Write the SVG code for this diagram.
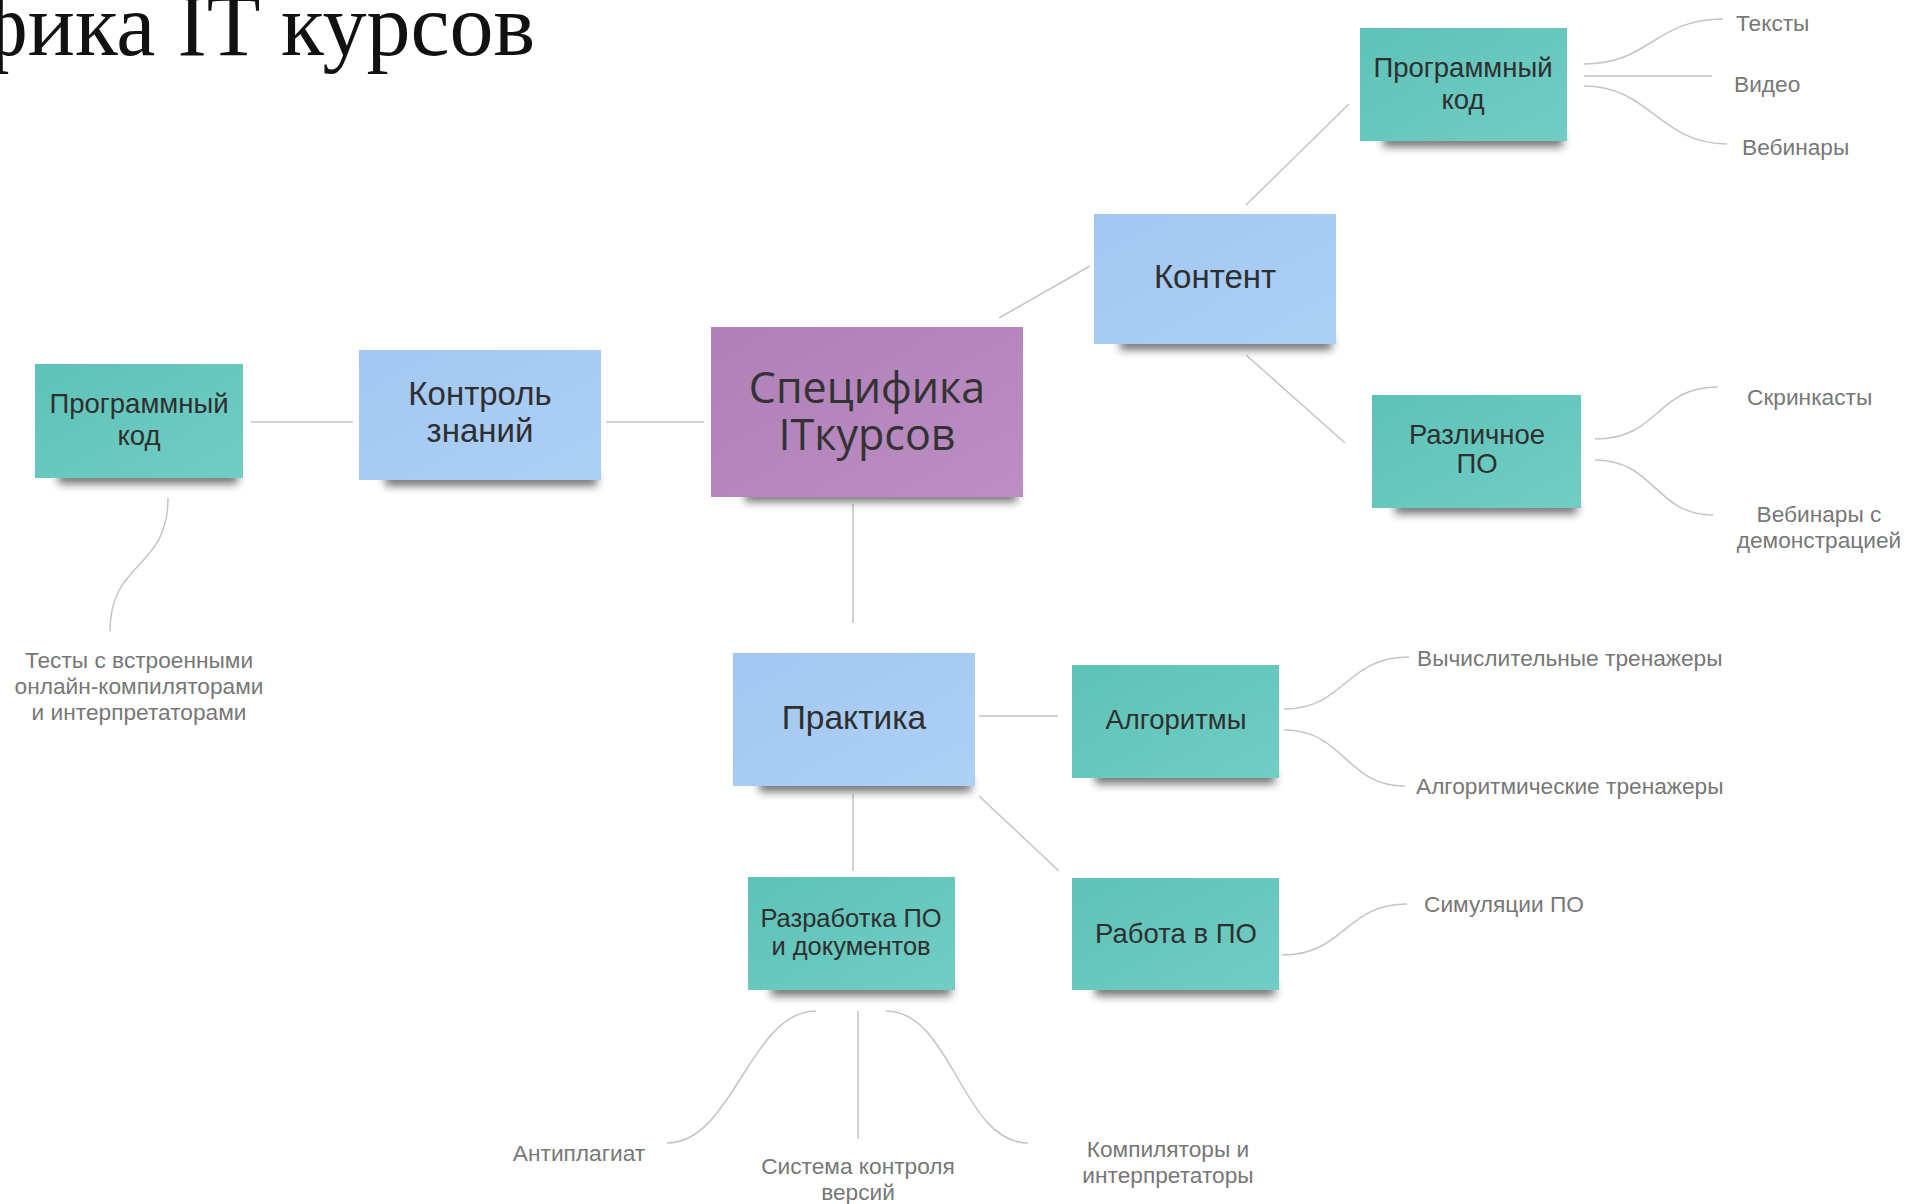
<svg xmlns="http://www.w3.org/2000/svg" width="1905" height="1204" viewBox="0 0 1905 1204">
  <defs>
    <linearGradient id="gTeal" x1="0" y1="0" x2="1" y2="1">
      <stop offset="0" stop-color="#5dc2b8"/>
      <stop offset="1" stop-color="#72cdc4"/>
    </linearGradient>
    <linearGradient id="gBlue" x1="0" y1="0" x2="1" y2="1">
      <stop offset="0" stop-color="#a2c7f1"/>
      <stop offset="1" stop-color="#add0f5"/>
    </linearGradient>
    <linearGradient id="gPurple" x1="0" y1="0" x2="1" y2="1">
      <stop offset="0" stop-color="#af80b8"/>
      <stop offset="1" stop-color="#bc8ec3"/>
    </linearGradient>
    <filter id="blur" x="-20%" y="-150%" width="140%" height="400%">
      <feGaussianBlur stdDeviation="4"/>
    </filter>
  </defs>
  <style>
    .bg { fill: #ffffff; }
    .ln { fill: none; stroke: #c4c4c4; stroke-width: 1.5; }
    .shadow { fill: #1e1e1e; opacity: 0.6; filter: url(#blur); }
    .teal { fill: url(#gTeal); }
    .blue { fill: url(#gBlue); }
    .purple { fill: url(#gPurple); }
    .nt { font-family: "Liberation Sans", Arial, sans-serif; fill: #2f2f2f; text-anchor: middle; }
    .mt { font-family: "Open Sans", "Noto Sans", sans-serif; fill: #333333; text-anchor: middle; font-size: 43px; }
    .lb { font-family: "Liberation Sans", Arial, sans-serif; fill: #777777; font-size: 22.7px; }
    .lc { text-anchor: middle; }
    .title { font-family: "Liberation Serif", "Times New Roman", serif; font-size: 88px; fill: #111111; text-anchor: end; }
  </style>

  <rect class="bg" x="0" y="0" width="1905" height="1204"/>

  <g id="title">
    <text class="title" x="535" y="55">Специфика IT курсов</text>
  </g>

  <g id="connectors">
    <path class="ln" d="M251,422 H353"/>
    <path class="ln" d="M606,422 H704"/>
    <path class="ln" d="M999,318 L1090,266"/>
    <path class="ln" d="M1246,205 L1349,104"/>
    <path class="ln" d="M1246,355 L1345,443"/>
    <path class="ln" d="M853,504 V623"/>
    <path class="ln" d="M853,794 V871"/>
    <path class="ln" d="M979,716 H1058"/>
    <path class="ln" d="M979,796 L1059,871"/>
    <path class="ln" d="M1584,64 C1650,64 1655,19 1723,19"/>
    <path class="ln" d="M1584,76 H1712"/>
    <path class="ln" d="M1584,86 C1650,86 1660,144 1727,144"/>
    <path class="ln" d="M1595,439 C1660,439 1655,387 1718,387"/>
    <path class="ln" d="M1595,460 C1655,460 1655,515 1713,515"/>
    <path class="ln" d="M1284,709 C1345,709 1345,657 1409,657"/>
    <path class="ln" d="M1284,730 C1345,730 1345,786 1405,786"/>
    <path class="ln" d="M1282,955 C1345,955 1345,904 1407,904"/>
    <path class="ln" d="M168,498 C168,570 110,560 110,631"/>
    <path class="ln" d="M816,1011 C750,1011 733,1143 667,1143"/>
    <path class="ln" d="M858,1011 V1139"/>
    <path class="ln" d="M886,1011 C952,1011 962,1143 1028,1143"/>
  </g>

  <g id="node-main">
    <rect class="shadow" x="745" y="488" width="272" height="14"/>
    <rect class="purple" x="711" y="327" width="312" height="170"/>
    <text class="mt" x="867" y="403">Специфика</text>
    <text class="mt" x="867" y="450">ITкурсов</text>
  </g>

  <g id="node-kontrol">
    <rect class="shadow" x="385" y="472" width="212" height="14"/>
    <rect class="blue" x="359" y="350" width="242" height="130"/>
    <text class="nt" x="480" y="405" font-size="33">Контроль</text>
    <text class="nt" x="480" y="442" font-size="33">знаний</text>
  </g>

  <g id="node-prog-left">
    <rect class="shadow" x="58" y="470" width="180" height="14"/>
    <rect class="teal" x="35" y="364" width="208" height="114"/>
    <text class="nt" x="139" y="413" font-size="27.5">Программный</text>
    <text class="nt" x="139" y="445" font-size="27.5">код</text>
  </g>

  <g id="node-kontent">
    <rect class="shadow" x="1120" y="336" width="212" height="14"/>
    <rect class="blue" x="1094" y="214" width="242" height="130"/>
    <text class="nt" x="1215" y="288" font-size="33">Контент</text>
  </g>

  <g id="node-prog-top">
    <rect class="shadow" x="1383" y="133" width="180" height="14"/>
    <rect class="teal" x="1360" y="28" width="207" height="113"/>
    <text class="nt" x="1463" y="77" font-size="27.5">Программный</text>
    <text class="nt" x="1463" y="109" font-size="27.5">код</text>
  </g>

  <g id="node-razlichnoe">
    <rect class="shadow" x="1395" y="500" width="182" height="14"/>
    <rect class="teal" x="1372" y="395" width="209" height="113"/>
    <text class="nt" x="1477" y="444" font-size="27.5">Различное</text>
    <text class="nt" x="1477" y="473" font-size="27.5">ПО</text>
  </g>

  <g id="node-praktika">
    <rect class="shadow" x="759" y="778" width="212" height="14"/>
    <rect class="blue" x="733" y="653" width="242" height="133"/>
    <text class="nt" x="854" y="729" font-size="33.5">Практика</text>
  </g>

  <g id="node-razrabotka">
    <rect class="shadow" x="771" y="982" width="180" height="14"/>
    <rect class="teal" x="748" y="877" width="207" height="113"/>
    <text class="nt" x="851" y="927" font-size="25.5">Разработка ПО</text>
    <text class="nt" x="851" y="955" font-size="25.5">и документов</text>
  </g>

  <g id="node-algoritmy">
    <rect class="shadow" x="1095" y="770" width="180" height="14"/>
    <rect class="teal" x="1072" y="665" width="207" height="113"/>
    <text class="nt" x="1176" y="729" font-size="27.5">Алгоритмы</text>
  </g>

  <g id="node-rabota">
    <rect class="shadow" x="1095" y="982" width="180" height="14"/>
    <rect class="teal" x="1072" y="878" width="207" height="112"/>
    <text class="nt" x="1176" y="943" font-size="27.5">Работа в ПО</text>
  </g>

  <g id="label-teksty"><text class="lb" x="1736" y="31">Тексты</text></g>
  <g id="label-video"><text class="lb" x="1734" y="92">Видео</text></g>
  <g id="label-vebinary"><text class="lb" x="1742" y="155">Вебинары</text></g>
  <g id="label-skrinkasty"><text class="lb" x="1747" y="405">Скринкасты</text></g>
  <g id="label-vebinary-demo">
    <text class="lb lc" x="1819" y="522">Вебинары с</text>
    <text class="lb lc" x="1819" y="548">демонстрацией</text>
  </g>
  <g id="label-testy">
    <text class="lb lc" x="139" y="668">Тесты с встроенными</text>
    <text class="lb lc" x="139" y="694">онлайн-компиляторами</text>
    <text class="lb lc" x="139" y="720">и интерпретаторами</text>
  </g>
  <g id="label-vychisl"><text class="lb" x="1417" y="666">Вычислительные тренажеры</text></g>
  <g id="label-algoritm-tren"><text class="lb" x="1416" y="794">Алгоритмические тренажеры</text></g>
  <g id="label-simulyacii"><text class="lb" x="1424" y="912">Симуляции ПО</text></g>
  <g id="label-antiplagiat"><text class="lb lc" x="579" y="1161">Антиплагиат</text></g>
  <g id="label-sistema">
    <text class="lb lc" x="858" y="1174">Система контроля</text>
    <text class="lb lc" x="858" y="1200">версий</text>
  </g>
  <g id="label-kompilyatory">
    <text class="lb lc" x="1168" y="1157">Компиляторы и</text>
    <text class="lb lc" x="1168" y="1183">интерпретаторы</text>
  </g>
</svg>
